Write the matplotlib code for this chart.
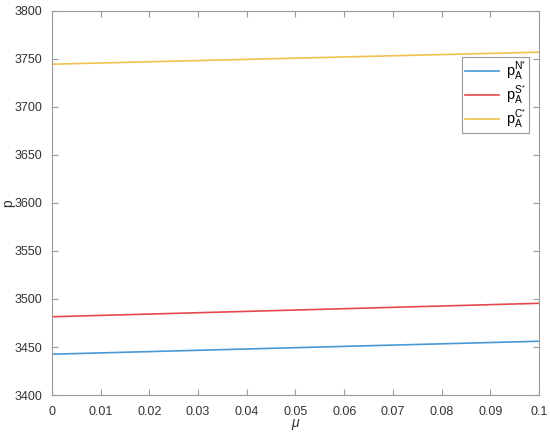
import matplotlib.pyplot as plt

mu = [0.0, 0.05, 0.1]
p_N = [3442.5, 3449.3, 3456.0]
p_S = [3481.5, 3488.5, 3495.5]
p_C = [3744.5, 3750.8, 3757.0]

labels = [r'$\mathrm{p}_\mathrm{A}^{\mathrm{N}^{*}}$',
          r'$\mathrm{p}_\mathrm{A}^{\mathrm{S}^{*}}$',
          r'$\mathrm{p}_\mathrm{A}^{\mathrm{C}^{*}}$']
colors = ['#4a98d4', '#e4494d', '#efc14e']

plt.rcParams['font.family'] = ['Liberation Sans', 'DejaVu Sans']
plt.rcParams['mathtext.fontset'] = 'custom'
plt.rcParams['mathtext.rm'] = 'Liberation Sans'
plt.rcParams['mathtext.it'] = 'Liberation Sans:italic'

fig = plt.figure(figsize=(5.5, 4.36), dpi=100)
ax = fig.add_axes([0.0945, 0.094, 0.8855, 0.881])

for y, lab, c in zip([p_N, p_S, p_C], labels, colors):
    ax.plot(mu, y, color=c, lw=1.2, label=lab)

ax.set_xlim(0, 0.1)
ax.set_ylim(3400, 3800)
ax.set_xticks([i / 100 for i in range(11)])
ax.set_xticklabels(['0'] + ['%.2f' % (i / 100) for i in range(1, 10)] + ['0.1'])
ax.set_yticks(range(3400, 3801, 50))

for s in ax.spines.values():
    s.set_color('#9a9a9a')
ax.tick_params(direction='in', length=4, color='#9a9a9a', labelcolor='#333333',
               labelsize=9, top=True, right=True)
ax.tick_params(axis='x', pad=8)
ax.tick_params(axis='y', pad=7)

ax.set_xlabel(r'$\mu$', fontsize=10, color='#333333')
ax.xaxis.set_label_coords(0.5, -0.058)
ax.set_ylabel('p', fontsize=10, color='#333333')
ax.yaxis.set_label_coords(-0.076, 0.5)

leg = ax.legend(loc='upper right', bbox_to_anchor=(0.98, 0.881), fontsize=10.5,
                fancybox=False, framealpha=1, edgecolor='#9a9a9a',
                handlelength=2.3, borderpad=0.2, labelspacing=0.1,
                handletextpad=0.5, borderaxespad=0)
leg.get_frame().set_linewidth(0.8)

fig.savefig('out.png', dpi=100)
